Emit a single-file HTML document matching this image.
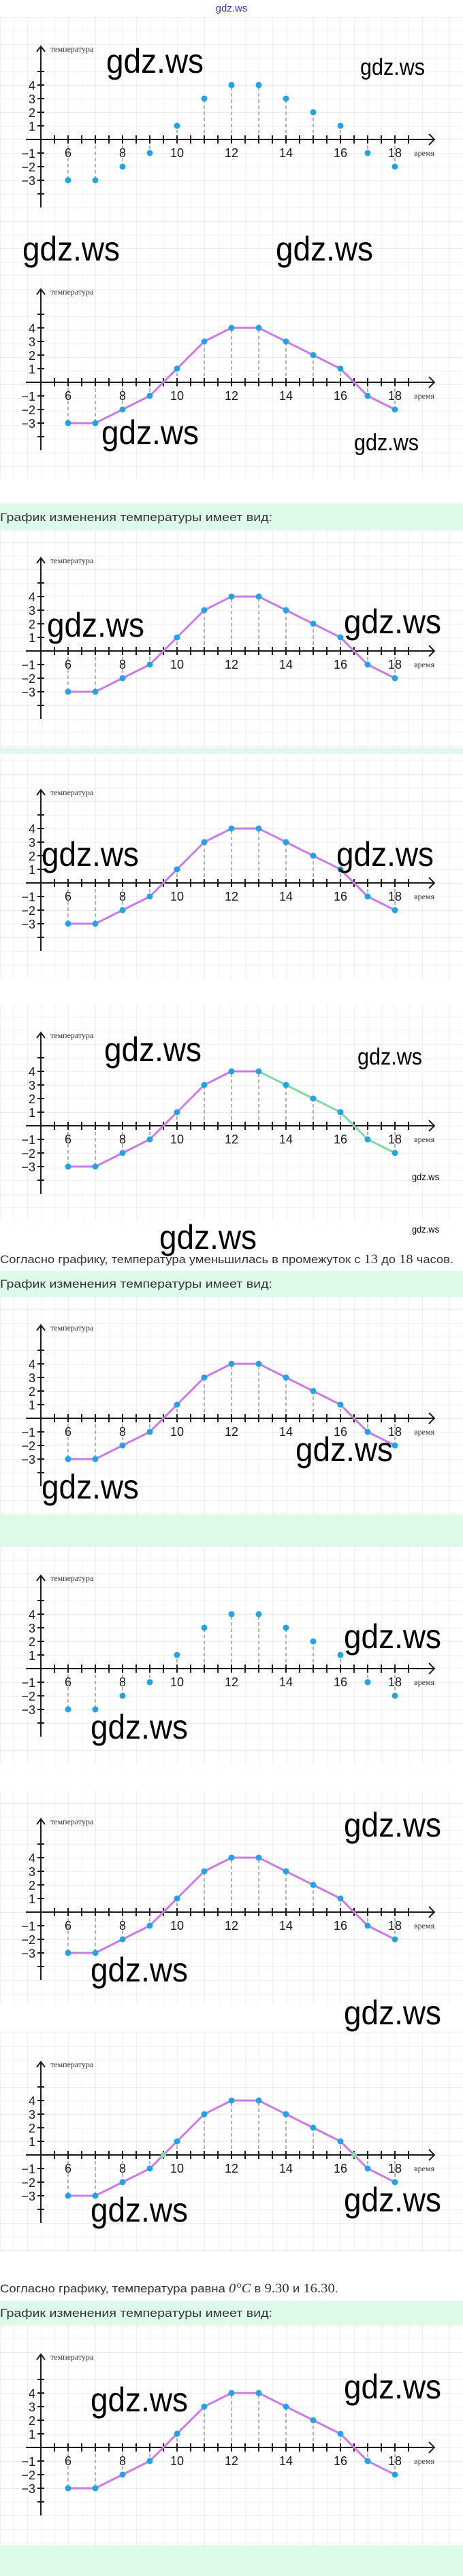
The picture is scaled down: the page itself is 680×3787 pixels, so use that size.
<!DOCTYPE html>
<html><head><meta charset="utf-8"><style>
html,body{margin:0;padding:0;background:#fff;}
svg{display:block;}
.wm{font-family:"Liberation Sans Narrow","Liberation Sans",sans-serif;fill:#000;}
.yl{font-family:"Liberation Sans",sans-serif;font-size:18px;fill:#1a1a1a;text-anchor:end;}
.xl{font-family:"Liberation Sans",sans-serif;font-size:18px;fill:#1a1a1a;text-anchor:middle;}
.sr{font-family:"Liberation Serif",serif;font-size:12px;fill:#333;}
.tx{font-family:"Liberation Sans",sans-serif;font-size:17px;fill:#333;}
</style></head><body>
<svg width="680" height="3787" viewBox="0 0 680 3787" xmlns="http://www.w3.org/2000/svg">
<defs>
<pattern id="gp" width="20" height="20" patternUnits="userSpaceOnUse">
<path d="M0 0H20M0 0V20" stroke="#e4e4e8" stroke-width="1.2" fill="none"/>
</pattern>
<g id="ax" stroke="#1a1a1a" stroke-width="2" fill="none">
<path d="M0 -137V100M-6 -129L0 -137L6 -129"/>
<path d="M-22 0H578M570 -8L578 0L570 8"/>
<path d="M-5 -100H5M-5 -80H5M-5 -60H5M-5 -40H5M-5 -20H5M-5 20H5M-5 40H5M-5 60H5M-5 80H5"/>
<path d="M20 -6V6M40 -6V6M60 -6V6M80 -6V6M100 -6V6M120 -6V6M140 -6V6M160 -6V6M180 -6V6M200 -6V6M220 -6V6M240 -6V6M260 -6V6M280 -6V6M300 -6V6M320 -6V6M340 -6V6M360 -6V6M380 -6V6M400 -6V6M420 -6V6M440 -6V6M460 -6V6M480 -6V6M500 -6V6M520 -6V6M540 -6V6"/>
</g>
<g id="dash" stroke="#999" stroke-width="1.5" stroke-dasharray="5,4" fill="none">
<path d="M40 0V60M80 0V60M120 0V40M160 0V20M200 0V-20M240 0V-60M280 0V-80M320 0V-80M360 0V-60M400 0V-40M440 0V-20M480 0V20M520 0V40"/>
</g>
<polyline id="ln" points="40,60 80,60 120,40 160,20 200,-20 240,-60 280,-80 320,-80 360,-60 400,-40 440,-20 480,20 520,40" fill="none" stroke="#cc7ae6" stroke-width="3" stroke-linejoin="round"/>
<g id="dots" fill="#1ea4ea">
<circle cx="40" cy="60" r="4.5"/><circle cx="80" cy="60" r="4.5"/><circle cx="120" cy="40" r="4.5"/><circle cx="160" cy="20" r="4.5"/><circle cx="200" cy="-20" r="4.5"/><circle cx="240" cy="-60" r="4.5"/><circle cx="280" cy="-80" r="4.5"/><circle cx="320" cy="-80" r="4.5"/><circle cx="360" cy="-60" r="4.5"/><circle cx="400" cy="-40" r="4.5"/><circle cx="440" cy="-20" r="4.5"/><circle cx="480" cy="20" r="4.5"/><circle cx="520" cy="40" r="4.5"/>
</g>
</defs>

<g transform="translate(0,205)"><rect x="0" y="-180" width="680" height="678" fill="url(#gp)"/></g>
<rect x="0" y="740" width="680" height="40" fill="#defbea"/>
<g transform="translate(0,957)"><rect x="0" y="-177" width="680" height="320" fill="url(#gp)"/></g>
<rect x="0" y="1100" width="680" height="8" fill="#defbea"/>
<g transform="translate(0,1298)"><rect x="0" y="-185" width="680" height="325" fill="url(#gp)"/></g>
<g transform="translate(0,1655)"><rect x="0" y="-178" width="680" height="318" fill="url(#gp)"/></g>
<rect x="0" y="1868" width="680" height="39" fill="#defbea"/>
<g transform="translate(0,2085)"><rect x="0" y="-178" width="680" height="320" fill="url(#gp)"/></g>
<rect x="0" y="2227" width="680" height="46" fill="#defbea"/>
<g transform="translate(0,2453)"><rect x="0" y="-180" width="680" height="320" fill="url(#gp)"/></g>
<g transform="translate(0,2811)"><rect x="0" y="-179" width="680" height="315" fill="url(#gp)"/></g>
<g transform="translate(0,3168)"><rect x="0" y="-180" width="680" height="322" fill="url(#gp)"/></g>
<rect x="0" y="3382" width="680" height="36" fill="#defbea"/>
<g transform="translate(0,3598)"><rect x="0" y="-180" width="680" height="324" fill="url(#gp)"/></g>
<rect x="0" y="3742" width="680" height="45" fill="#defbea"/>

<text x="340" y="17" text-anchor="middle" font-family="Liberation Sans,sans-serif" font-size="15" fill="#3838c8">gdz.ws</text>

<g transform="translate(60,205)">
<use href="#dash"/><use href="#ax"/><use href="#dots"/>
<text class="sr" x="14" y="-129" font-size="13">температура</text>
<text class="yl" x="-8" y="-73">4</text><text class="yl" x="-8" y="-53">3</text><text class="yl" x="-8" y="-33">2</text><text class="yl" x="-8" y="-13">1</text><text class="yl" x="-8" y="27">−1</text><text class="yl" x="-8" y="47">−2</text><text class="yl" x="-8" y="67">−3</text>
<text class="xl" x="40" y="26">6</text><text class="xl" x="120" y="26">8</text><text class="xl" x="200" y="26">10</text><text class="xl" x="280" y="26">12</text><text class="xl" x="360" y="26">14</text><text class="xl" x="440" y="26">16</text><text class="xl" x="520" y="26">18</text>
<text class="sr" x="548" y="24">время</text>
</g>
<g transform="translate(60,562)">
<use href="#dash"/><use href="#ax"/><use href="#ln"/><use href="#dots"/>
<text class="sr" x="14" y="-129" font-size="13">температура</text>
<text class="yl" x="-8" y="-73">4</text><text class="yl" x="-8" y="-53">3</text><text class="yl" x="-8" y="-33">2</text><text class="yl" x="-8" y="-13">1</text><text class="yl" x="-8" y="27">−1</text><text class="yl" x="-8" y="47">−2</text><text class="yl" x="-8" y="67">−3</text>
<text class="xl" x="40" y="26">6</text><text class="xl" x="120" y="26">8</text><text class="xl" x="200" y="26">10</text><text class="xl" x="280" y="26">12</text><text class="xl" x="360" y="26">14</text><text class="xl" x="440" y="26">16</text><text class="xl" x="520" y="26">18</text>
<text class="sr" x="548" y="24">время</text>
</g>
<text class="tx" x="0" y="766" textLength="400" lengthAdjust="spacingAndGlyphs">График изменения температуры имеет вид:</text>
<g transform="translate(60,957)">
<use href="#dash"/><use href="#ax"/><use href="#ln"/><use href="#dots"/>
<text class="sr" x="14" y="-129" font-size="13">температура</text>
<text class="yl" x="-8" y="-73">4</text><text class="yl" x="-8" y="-53">3</text><text class="yl" x="-8" y="-33">2</text><text class="yl" x="-8" y="-13">1</text><text class="yl" x="-8" y="27">−1</text><text class="yl" x="-8" y="47">−2</text><text class="yl" x="-8" y="67">−3</text>
<text class="xl" x="40" y="26">6</text><text class="xl" x="120" y="26">8</text><text class="xl" x="200" y="26">10</text><text class="xl" x="280" y="26">12</text><text class="xl" x="360" y="26">14</text><text class="xl" x="440" y="26">16</text><text class="xl" x="520" y="26">18</text>
<text class="sr" x="548" y="24">время</text>
</g>
<g transform="translate(60,1298)">
<use href="#dash"/><use href="#ax"/><use href="#ln"/><use href="#dots"/>
<text class="sr" x="14" y="-129" font-size="13">температура</text>
<text class="yl" x="-8" y="-73">4</text><text class="yl" x="-8" y="-53">3</text><text class="yl" x="-8" y="-33">2</text><text class="yl" x="-8" y="-13">1</text><text class="yl" x="-8" y="27">−1</text><text class="yl" x="-8" y="47">−2</text><text class="yl" x="-8" y="67">−3</text>
<text class="xl" x="40" y="26">6</text><text class="xl" x="120" y="26">8</text><text class="xl" x="200" y="26">10</text><text class="xl" x="280" y="26">12</text><text class="xl" x="360" y="26">14</text><text class="xl" x="440" y="26">16</text><text class="xl" x="520" y="26">18</text>
<text class="sr" x="548" y="24">время</text>
</g>
<g transform="translate(60,1655)">
<use href="#dash"/><use href="#ax"/>
<polyline points="40,60 80,60 120,40 160,20 200,-20 240,-60 280,-80 320,-80" fill="none" stroke="#cc7ae6" stroke-width="3" stroke-linejoin="round"/>
<polyline points="320,-80 360,-60 400,-40 440,-20 480,20 520,40" fill="none" stroke="#7fd9a2" stroke-width="3" stroke-linejoin="round"/>
<use href="#dots"/>
<text class="sr" x="14" y="-129" font-size="13">температура</text>
<text class="yl" x="-8" y="-73">4</text><text class="yl" x="-8" y="-53">3</text><text class="yl" x="-8" y="-33">2</text><text class="yl" x="-8" y="-13">1</text><text class="yl" x="-8" y="27">−1</text><text class="yl" x="-8" y="47">−2</text><text class="yl" x="-8" y="67">−3</text>
<text class="xl" x="40" y="26">6</text><text class="xl" x="120" y="26">8</text><text class="xl" x="200" y="26">10</text><text class="xl" x="280" y="26">12</text><text class="xl" x="360" y="26">14</text><text class="xl" x="440" y="26">16</text><text class="xl" x="520" y="26">18</text>
<text class="sr" x="548" y="24">время</text>
</g>
<text class="tx" x="0" y="1857" textLength="666" lengthAdjust="spacingAndGlyphs">Согласно графику, температура уменьшилась в промежуток с <tspan font-family="Liberation Serif,serif" font-size="19">13</tspan> до <tspan font-family="Liberation Serif,serif" font-size="19">18</tspan> часов.</text>
<text class="tx" x="0" y="1893" textLength="400" lengthAdjust="spacingAndGlyphs">График изменения температуры имеет вид:</text>
<g transform="translate(60,2085)">
<use href="#dash"/><use href="#ax"/><use href="#ln"/><use href="#dots"/>
<text class="sr" x="14" y="-129" font-size="13">температура</text>
<text class="yl" x="-8" y="-73">4</text><text class="yl" x="-8" y="-53">3</text><text class="yl" x="-8" y="-33">2</text><text class="yl" x="-8" y="-13">1</text><text class="yl" x="-8" y="27">−1</text><text class="yl" x="-8" y="47">−2</text><text class="yl" x="-8" y="67">−3</text>
<text class="xl" x="40" y="26">6</text><text class="xl" x="120" y="26">8</text><text class="xl" x="200" y="26">10</text><text class="xl" x="280" y="26">12</text><text class="xl" x="360" y="26">14</text><text class="xl" x="440" y="26">16</text><text class="xl" x="520" y="26">18</text>
<text class="sr" x="548" y="24">время</text>
</g>
<g transform="translate(60,2453)">
<use href="#dash"/><use href="#ax"/><use href="#dots"/>
<text class="sr" x="14" y="-129" font-size="13">температура</text>
<text class="yl" x="-8" y="-73">4</text><text class="yl" x="-8" y="-53">3</text><text class="yl" x="-8" y="-33">2</text><text class="yl" x="-8" y="-13">1</text><text class="yl" x="-8" y="27">−1</text><text class="yl" x="-8" y="47">−2</text><text class="yl" x="-8" y="67">−3</text>
<text class="xl" x="40" y="26">6</text><text class="xl" x="120" y="26">8</text><text class="xl" x="200" y="26">10</text><text class="xl" x="280" y="26">12</text><text class="xl" x="360" y="26">14</text><text class="xl" x="440" y="26">16</text><text class="xl" x="520" y="26">18</text>
<text class="sr" x="548" y="24">время</text>
</g>
<g transform="translate(60,2811)">
<use href="#dash"/><use href="#ax"/><use href="#ln"/><use href="#dots"/>
<text class="sr" x="14" y="-129" font-size="13">температура</text>
<text class="yl" x="-8" y="-73">4</text><text class="yl" x="-8" y="-53">3</text><text class="yl" x="-8" y="-33">2</text><text class="yl" x="-8" y="-13">1</text><text class="yl" x="-8" y="27">−1</text><text class="yl" x="-8" y="47">−2</text><text class="yl" x="-8" y="67">−3</text>
<text class="xl" x="40" y="26">6</text><text class="xl" x="120" y="26">8</text><text class="xl" x="200" y="26">10</text><text class="xl" x="280" y="26">12</text><text class="xl" x="360" y="26">14</text><text class="xl" x="440" y="26">16</text><text class="xl" x="520" y="26">18</text>
<text class="sr" x="548" y="24">время</text>
</g>
<g transform="translate(60,3168)">
<use href="#dash"/><use href="#ax"/><use href="#ln"/><use href="#dots"/>
<circle cx="180" cy="0" r="4" fill="#7fe0a2"/><circle cx="460" cy="0" r="4" fill="#7fe0a2"/>
<text class="sr" x="14" y="-129" font-size="13">температура</text>
<text class="yl" x="-8" y="-73">4</text><text class="yl" x="-8" y="-53">3</text><text class="yl" x="-8" y="-33">2</text><text class="yl" x="-8" y="-13">1</text><text class="yl" x="-8" y="27">−1</text><text class="yl" x="-8" y="47">−2</text><text class="yl" x="-8" y="67">−3</text>
<text class="xl" x="40" y="26">6</text><text class="xl" x="120" y="26">8</text><text class="xl" x="200" y="26">10</text><text class="xl" x="280" y="26">12</text><text class="xl" x="360" y="26">14</text><text class="xl" x="440" y="26">16</text><text class="xl" x="520" y="26">18</text>
<text class="sr" x="548" y="24">время</text>
</g>
<text class="tx" x="0" y="3370" textLength="497" lengthAdjust="spacingAndGlyphs">Согласно графику, температура равна <tspan font-family="Liberation Serif,serif" font-size="19" font-style="italic">0°C</tspan> в <tspan font-family="Liberation Serif,serif" font-size="19">9.30</tspan> и <tspan font-family="Liberation Serif,serif" font-size="19">16.30</tspan>.</text>
<text class="tx" x="0" y="3406" textLength="400" lengthAdjust="spacingAndGlyphs">График изменения температуры имеет вид:</text>
<g transform="translate(60,3598)">
<use href="#dash"/><use href="#ax"/><use href="#ln"/><use href="#dots"/>
<text class="sr" x="14" y="-129" font-size="13">температура</text>
<text class="yl" x="-8" y="-73">4</text><text class="yl" x="-8" y="-53">3</text><text class="yl" x="-8" y="-33">2</text><text class="yl" x="-8" y="-13">1</text><text class="yl" x="-8" y="27">−1</text><text class="yl" x="-8" y="47">−2</text><text class="yl" x="-8" y="67">−3</text>
<text class="xl" x="40" y="26">6</text><text class="xl" x="120" y="26">8</text><text class="xl" x="200" y="26">10</text><text class="xl" x="280" y="26">12</text><text class="xl" x="360" y="26">14</text><text class="xl" x="440" y="26">16</text><text class="xl" x="520" y="26">18</text>
<text class="sr" x="548" y="24">время</text>
</g>

<g class="wm" font-size="50">
<text x="156" y="107" textLength="143" lengthAdjust="spacingAndGlyphs">gdz.ws</text>
<text x="33" y="383" textLength="143" lengthAdjust="spacingAndGlyphs">gdz.ws</text>
<text x="405" y="383" textLength="143" lengthAdjust="spacingAndGlyphs">gdz.ws</text>
<text x="149" y="653" textLength="143" lengthAdjust="spacingAndGlyphs">gdz.ws</text>
<text x="69" y="936" textLength="143" lengthAdjust="spacingAndGlyphs">gdz.ws</text>
<text x="505" y="931" textLength="143" lengthAdjust="spacingAndGlyphs">gdz.ws</text>
<text x="61" y="1273" textLength="143" lengthAdjust="spacingAndGlyphs">gdz.ws</text>
<text x="494" y="1273" textLength="143" lengthAdjust="spacingAndGlyphs">gdz.ws</text>
<text x="153" y="1560" textLength="143" lengthAdjust="spacingAndGlyphs">gdz.ws</text>
<text x="234" y="1836" textLength="143" lengthAdjust="spacingAndGlyphs">gdz.ws</text>
<text x="434" y="2148" textLength="143" lengthAdjust="spacingAndGlyphs">gdz.ws</text>
<text x="61" y="2203" textLength="143" lengthAdjust="spacingAndGlyphs">gdz.ws</text>
<text x="505" y="2423" textLength="143" lengthAdjust="spacingAndGlyphs">gdz.ws</text>
<text x="133" y="2556" textLength="143" lengthAdjust="spacingAndGlyphs">gdz.ws</text>
<text x="505" y="2700" textLength="143" lengthAdjust="spacingAndGlyphs">gdz.ws</text>
<text x="133" y="2913" textLength="143" lengthAdjust="spacingAndGlyphs">gdz.ws</text>
<text x="505" y="2976" textLength="143" lengthAdjust="spacingAndGlyphs">gdz.ws</text>
<text x="133" y="3266" textLength="143" lengthAdjust="spacingAndGlyphs">gdz.ws</text>
<text x="505" y="3251" textLength="143" lengthAdjust="spacingAndGlyphs">gdz.ws</text>
<text x="133" y="3545" textLength="143" lengthAdjust="spacingAndGlyphs">gdz.ws</text>
<text x="505" y="3526" textLength="143" lengthAdjust="spacingAndGlyphs">gdz.ws</text>
</g>
<g class="wm" font-size="34">
<text x="529" y="110" textLength="95" lengthAdjust="spacingAndGlyphs">gdz.ws</text>
<text x="520" y="662" textLength="95" lengthAdjust="spacingAndGlyphs">gdz.ws</text>
<text x="525" y="1565" textLength="95" lengthAdjust="spacingAndGlyphs">gdz.ws</text>
</g>
<g class="wm" font-size="14">
<text x="605" y="1735" textLength="40" lengthAdjust="spacingAndGlyphs">gdz.ws</text>
<text x="605" y="1812" textLength="40" lengthAdjust="spacingAndGlyphs">gdz.ws</text>
</g>
</svg>
</body></html>
